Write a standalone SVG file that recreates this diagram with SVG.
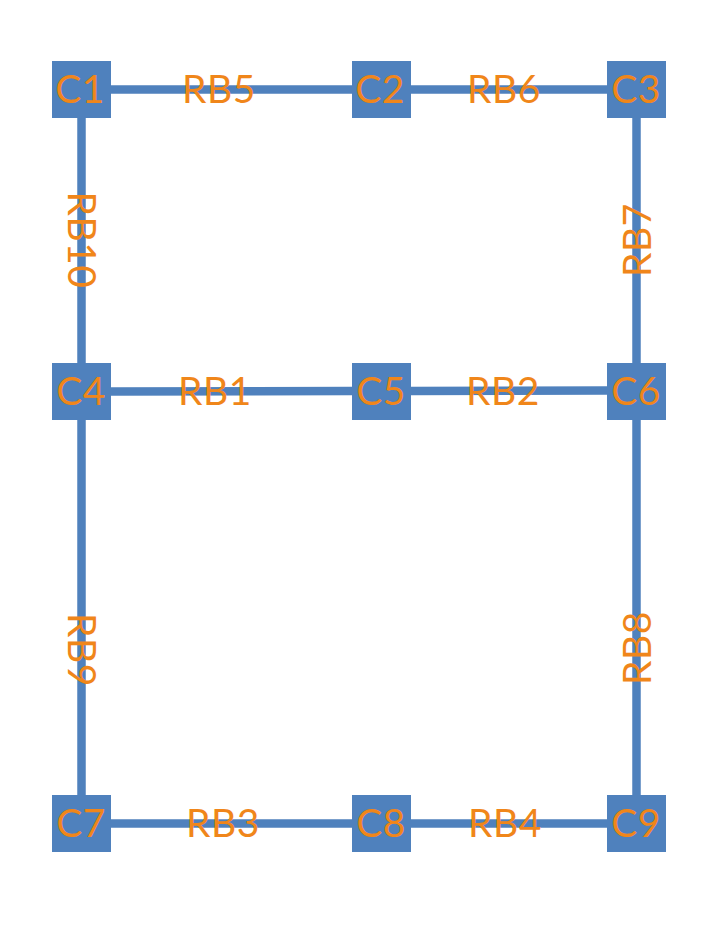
<svg xmlns="http://www.w3.org/2000/svg" width="718" height="928" viewBox="0 0 718 928">
<style>
.n{fill:#4F81BD}
.e{stroke:#4F81BD;stroke-width:8.5;fill:none}
.t{font-family:"Lato","Open Sans","Liberation Sans",sans-serif;font-size:39px;fill:#F0861A;text-anchor:middle;letter-spacing:0.5px}
</style>
<rect width="718" height="928" fill="#fff"/>
<g id="connectors">
<line class="e" x1="111" y1="89.5" x2="352" y2="89.5"/>
<line class="e" x1="411" y1="89.5" x2="607" y2="89.5"/>
<line class="e" x1="111" y1="391.5" x2="352" y2="391"/>
<line class="e" x1="411" y1="391" x2="607" y2="390.5"/>
<line class="e" x1="111" y1="823.5" x2="352" y2="823.5"/>
<line class="e" x1="411" y1="823.5" x2="607" y2="823.5"/>
<line class="e" x1="81.5" y1="118" x2="81.5" y2="363"/>
<line class="e" x1="81.5" y1="419" x2="81.5" y2="795"/>
<line class="e" x1="636.5" y1="118" x2="636.5" y2="363"/>
<line class="e" x1="636.5" y1="419" x2="636.5" y2="795"/>
<text class="t" x="219" y="103">RB5</text>
<text class="t" x="504" y="103">RB6</text>
<text class="t" x="215" y="405">RB1</text>
<text class="t" x="503" y="405">RB2</text>
<text class="t" x="223" y="837">RB3</text>
<text class="t" x="505" y="837">RB4</text>
<text class="t" transform="translate(81.5,240) rotate(90)" x="0" y="14">RB10</text>
<text class="t" transform="translate(81.5,650) rotate(90)" x="0" y="14">RB9</text>
<text class="t" transform="translate(636.5,240) rotate(-90)" x="0" y="14">RB7</text>
<text class="t" transform="translate(636.5,648) rotate(-90)" x="0" y="14">RB8</text>
</g>
<g id="C1"><rect class="n" x="52" y="61" width="59" height="57"/><text class="t" x="80" y="103">C1</text></g>
<g id="C2"><rect class="n" x="352" y="61" width="59" height="57"/><text class="t" x="380" y="103">C2</text></g>
<g id="C3"><rect class="n" x="607" y="61" width="59" height="57"/><text class="t" x="636" y="103">C3</text></g>
<g id="C4"><rect class="n" x="52" y="363" width="59" height="57"/><text class="t" x="81" y="405">C4</text></g>
<g id="C5"><rect class="n" x="352" y="363" width="59" height="57"/><text class="t" x="381" y="405">C5</text></g>
<g id="C6"><rect class="n" x="607" y="363" width="59" height="57"/><text class="t" x="636" y="405">C6</text></g>
<g id="C7"><rect class="n" x="52" y="795" width="59" height="57"/><text class="t" x="81" y="837">C7</text></g>
<g id="C8"><rect class="n" x="352" y="795" width="59" height="57"/><text class="t" x="381" y="837">C8</text></g>
<g id="C9"><rect class="n" x="607" y="795" width="59" height="57"/><text class="t" x="636" y="837">C9</text></g>
</svg>
